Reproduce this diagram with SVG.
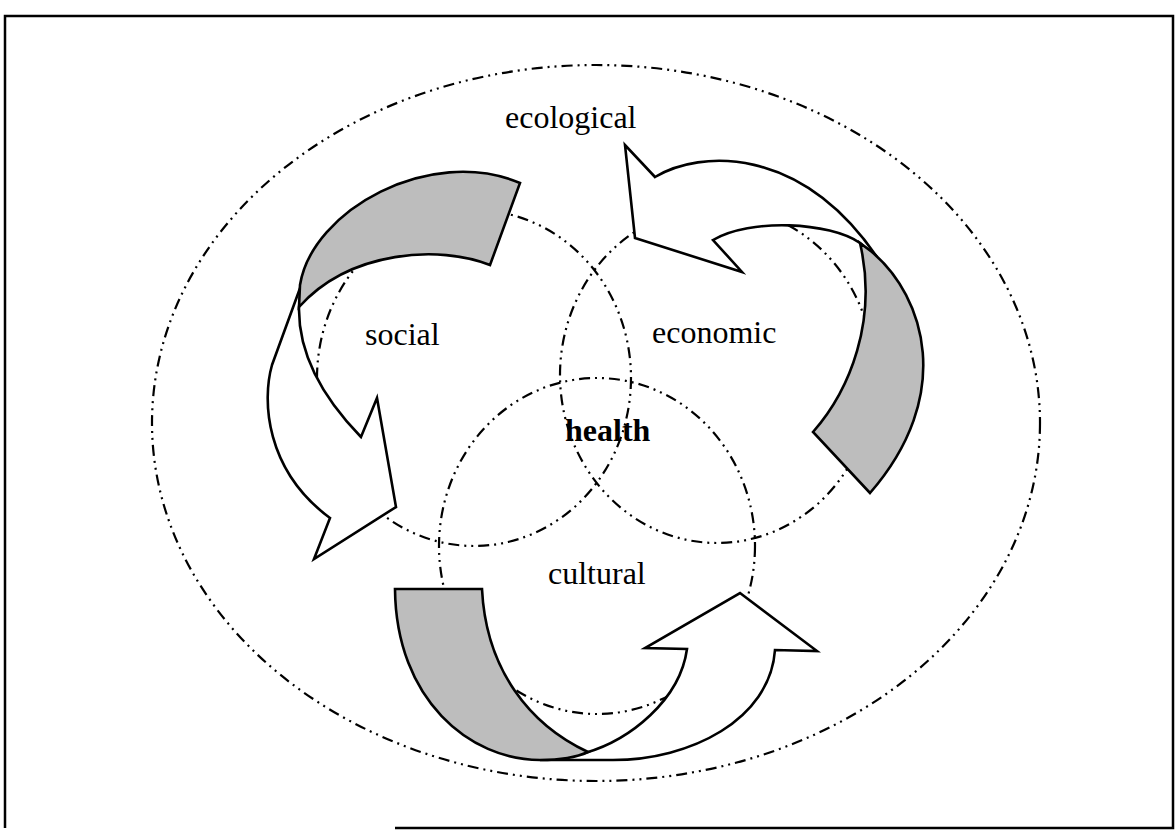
<svg xmlns="http://www.w3.org/2000/svg" width="1175" height="830" viewBox="0 0 1175 830">
  <style>
    .ring { fill: none; stroke: #000; stroke-width: 2.2; stroke-dasharray: 11 5 2 5 2 5; }
    .white { fill: #fff; stroke: #000; stroke-width: 2.6; stroke-linejoin: miter; }
    .gray { fill: #bdbdbd; stroke: #000; stroke-width: 2.6; stroke-linejoin: miter; }
    .lbl { font-family: "Liberation Serif", "Times New Roman", serif; font-size: 32px; fill: #000; }
    .bold { font-weight: bold; }
  </style>
  <rect width="1175" height="830" fill="#fff"/>
  <path id="frame" d="M395,828 H1173 V16 H5 V828" fill="none" stroke="#000" stroke-width="2.5"/>

  <g id="ecological">
    <ellipse class="ring" cx="596" cy="423" rx="444" ry="358"/>
    <text class="lbl" x="505" y="128">ecological</text>
  </g>
  <g id="social">
    <ellipse class="ring" cx="474" cy="378" rx="157" ry="168"/>
  </g>
  <g id="economic">
    <ellipse class="ring" cx="717" cy="375" rx="157" ry="168"/>
  </g>
  <g id="cultural">
    <ellipse class="ring" cx="597" cy="546" rx="158" ry="168"/>
  </g>

  <g id="connectors">
    <!-- social arrow -->
    <path class="white" d="M303,280 L272,365 C262,400 265,470 330,518 L314,559 L396,507 L377,398 L361,437 C330,405 298,360 299,307 Z"/>
    <path class="gray" d="M300,285 C312,210 430,145 520,183 L490,265 C440,245 350,250 299,307 Z"/>
    <!-- economic arrow -->
    <path class="white" d="M860,243 C830,222 750,218 713,240 L742,272 L635,238 L625,145 L655,177 C700,150 800,145 877,257 Z"/>
    <path class="gray" d="M860,243 L872,252 C925,297 955,395 870,493 L813,432 C850,390 878,320 860,243 Z"/>
    <!-- cultural arrow -->
    <path class="white" d="M540,760 L613,760 C690,760 770,720 775,650 L817,651 L740,593 L645,648 L687,649 C680,700 630,740 585,753 Z"/>
    <path class="gray" d="M395,589 L482,589 C486,670 530,725 588,752 C575,758 560,760 540,760 C470,760 396,700 395,589 Z"/>
  </g>

  <g id="labels">
    <text class="lbl" x="365" y="345">social</text>
    <text class="lbl" x="652" y="343">economic</text>
    <text class="lbl bold" x="565" y="441">health</text>
    <text class="lbl" x="548" y="584">cultural</text>
  </g>
</svg>
